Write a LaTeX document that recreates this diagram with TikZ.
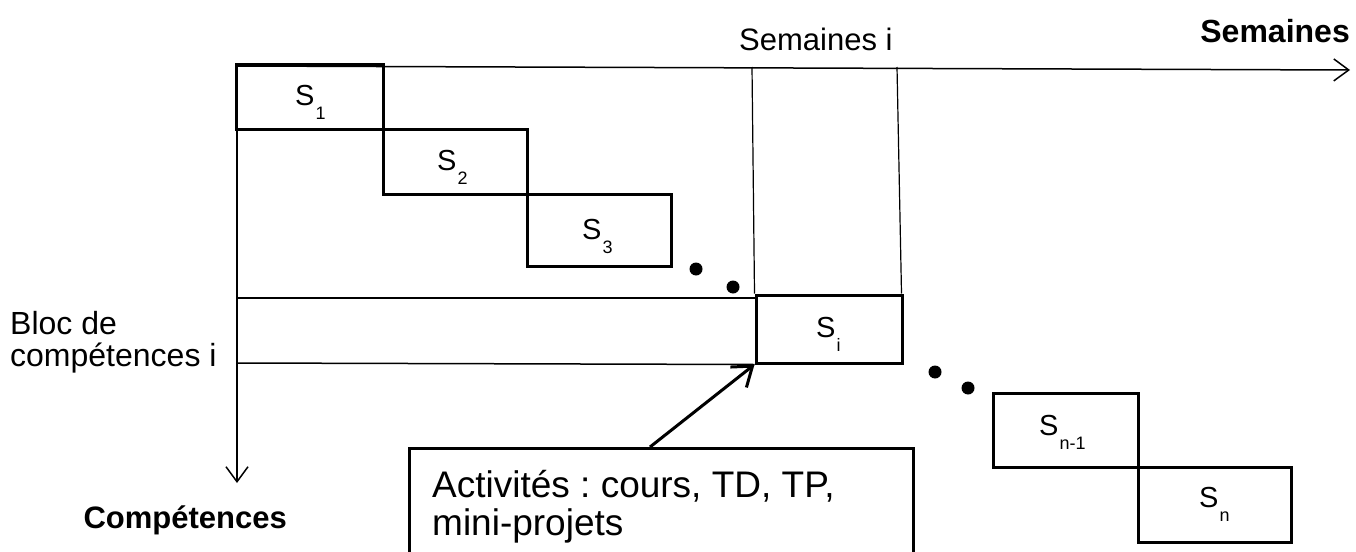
\documentclass[tikz,border=0pt]{standalone}
\usepackage{fontspec}
\setmainfont{Liberation Sans}
\usetikzlibrary{arrows.meta,calc}
\newcommand\subtx[1]{\kern1pt\raisebox{-14pt}{\fontsize{18}{18}\selectfont #1}}
\frenchspacing
\begin{document}
\begin{tikzpicture}[x=1pt,y=-1pt,
  sbox/.style={draw, line width=3pt, inner sep=0pt},
  lbl/.style={font=\fontsize{29}{29}\selectfont, inner sep=0pt, anchor=base west},
  axis/.style={line width=1.5pt, -{Straight Barb[length=15pt,width=22pt,line width=1.5pt]}},
  thinline/.style={line width=1.2pt},
  blocline/.style={line width=1.5pt},
  dot/.style={circle, fill, inner sep=0pt, minimum size=13pt},
  txt/.style={font=\fontsize{31}{32}\selectfont, inner sep=0pt, anchor=base west},
  boldtxt/.style={font=\fontsize{32}{32}\selectfont\bfseries, inner sep=0pt, anchor=base east},
  acttxt/.style={font=\fontsize{37}{37}\selectfont, inner sep=0pt, anchor=base west},
]
\useasboundingbox (0,0) rectangle (1356,551);

% step boxes
\node[sbox, minimum width=147pt, minimum height=64pt] (s1) at (309.5,97) {};
\node[sbox, minimum width=144pt, minimum height=65pt] (s2) at (455,161.5) {};
\node[sbox, minimum width=144pt, minimum height=72pt] (s3) at (599,230) {};
\node[sbox, minimum width=146pt, minimum height=68pt] (si) at (829,329) {};
\node[sbox, minimum width=145pt, minimum height=74pt] (sn1) at (1065.5,430) {};
\node[sbox, minimum width=153pt, minimum height=75pt] (sn) at (1214.5,504.5) {};

% labels
\node[lbl] (l1) at (295,105) {S\subtx{1}};
\node[lbl] (l2) at (437,170) {S\subtx{2}};
\node[lbl] (l3) at (582,239) {S\subtx{3}};
\node[lbl] (li) at (816,337) {S\subtx{i}};
\node[lbl] (ln1) at (1039,435) {S\subtx{n-1}};
\node[lbl] (ln) at (1199,507) {S\subtx{n}};

% axes
\coordinate (o) at (237,66);
\coordinate (hend) at (1350,70);
\coordinate (vend) at (237,483);
\draw[axis] (o) -- (hend);
\draw[axis] (o) -- (vend);

% bloc lines
\coordinate (b1) at (237,298);
\coordinate (b2) at (237,363);
\draw[blocline] (b1) -- (si.west |- b1);
\draw[blocline] (b2) -- (si.south west);

% week lines
\coordinate (t1) at (752,67);
\coordinate (t2) at (897,67);
\draw[thinline] (t1) -- (si.north west);
\draw[thinline] (t2) -- ($(si.north east)+(-2,0)$);

% dots
\node[dot] (d1) at (696,269) {};
\node[dot] (d2) at (733,287) {};
\node[dot] (d3) at (935,372) {};
\node[dot] (d4) at (968,388) {};

% texts
\node[txt] (semi) at (739,51) {Semaines i};
\node[boldtxt] (sem) at (1350,43) {Semaines};
\node[boldtxt, font=\fontsize{31}{31}\selectfont\bfseries] (comp) at (287,528) {Compétences};
\node[txt, font=\fontsize{32}{32}\selectfont] (bloc1) at (10,334) {Bloc de};
\node[txt, font=\fontsize{32}{32}\selectfont] (bloc2) at (10,366) {compétences i};

% activities box
\node[draw, line width=3pt, inner sep=0pt, minimum width=504pt, minimum height=130pt, anchor=north west] (act) at (408,447) {};
\node[acttxt] (act1) at (432,497) {Activités : cours, TD, TP,};
\node[acttxt] (act2) at (432,535) {mini-projets};
\draw[line width=3pt, -{Straight Barb[length=18pt,width=26pt,line width=3pt]}] ($(act.north west)+(242,0)$) -- (si.south west);
\end{tikzpicture}
\end{document}
